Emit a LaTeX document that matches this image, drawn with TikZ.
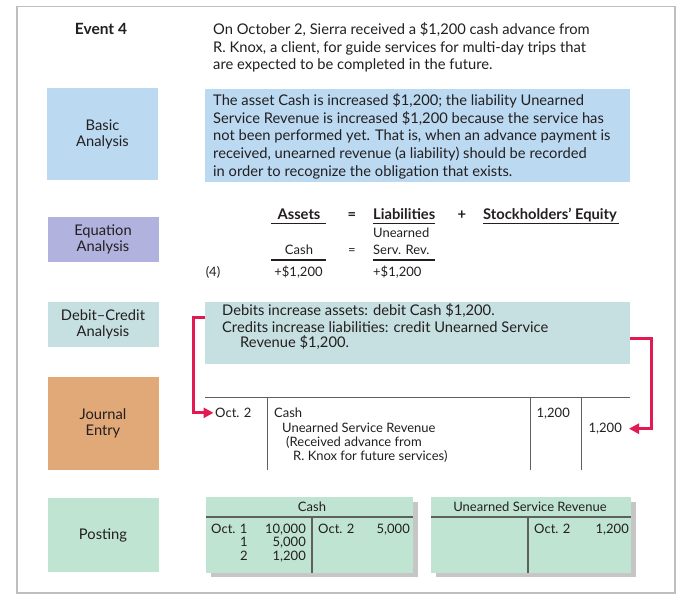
\documentclass[tikz,border=0pt]{standalone}
\usepackage{fontspec}
\setmainfont{Lato}
\usetikzlibrary{arrows.meta}
\definecolor{ink}{RGB}{35,31,32}
\definecolor{basicblue}{RGB}{187,218,242}
\definecolor{eqpurple}{RGB}{178,178,222}
\definecolor{dcteal}{RGB}{198,223,224}
\definecolor{jtan}{RGB}{225,168,120}
\definecolor{postmint}{RGB}{192,228,210}
\definecolor{shadowgray}{RGB}{198,198,198}
\definecolor{arrowred}{RGB}{226,26,82}
\definecolor{framegray}{RGB}{190,190,190}
\definecolor{rulegray}{RGB}{95,95,95}
\newcommand{\mainsz}{\fontsize{13}{16}\selectfont}
\newcommand{\bigsz}{\fontsize{14.7}{16}\selectfont}
\begin{document}
\begin{tikzpicture}[x=1pt,y=-1pt,
 txt/.style={anchor=base west, inner sep=0pt, font=\mainsz, text=ink},
 txtr/.style={anchor=base east, inner sep=0pt, font=\mainsz, text=ink},
 txtm/.style={anchor=base, inner sep=0pt, font=\mainsz, text=ink},
 para/.style={anchor=base west, inner sep=0pt, font=\bigsz, text=ink},
 boldtxt/.style={font=\bigsz\bfseries},
 lbox/.style={inner sep=0pt, align=center, font=\bigsz, text=ink, minimum width=111pt},
 panel/.style={inner sep=0pt, minimum width=425pt},
 uline/.style={draw=ink, line width=1.2pt},
 jrule/.style={draw=rulegray, line width=1pt},
 trule/.style={draw=rulegray, line width=1.3pt},
 redarr/.style={draw=arrowred, line width=3pt, line join=miter, -{Triangle[length=10pt,width=10pt]}},
]
\useasboundingbox[fill=white] (0,0) rectangle (685,611);
\draw[framegray, line width=1.5pt] (17,6.5) rectangle (675,593);

% Event
\node[txtm, font=\fontsize{15.5}{17}\selectfont\bfseries] (event) at (101,34) {Event 4};
\node[para] (ev1) at (213,34.3) {On October 2, Sierra received a \$1,200 cash advance from};
\node[para] (ev2) at (213,52) {R. Knox, a client, for guide services for multi-day trips that};
\node[para] (ev3) at (213,69.8) {are expected to be completed in the future.};

% left labels
\node[lbox, fill=basicblue, minimum height=92pt] (basic) at (102.5,134) {Basic\\Analysis};
\node[lbox, fill=eqpurple, minimum height=45pt] (eqlab) at (103,239.5) {Equation\\Analysis};
\node[lbox, fill=dcteal, minimum height=45pt] (dclab) at (103,324.5) {Debit–Credit\\Analysis};
\node[lbox, fill=jtan, minimum height=93pt] (jlab) at (103,423.5) {Journal\\Entry};
\node[lbox, fill=postmint, minimum height=74pt] (plab) at (103,535) {Posting};

% basic analysis
\node[panel, fill=basicblue, minimum height=93pt] (bapanel) at (417.5,135.5) {};
\node[para] (ba1) at (213,105.3) {The asset Cash is increased \$1,200; the liability Unearned};
\node[para] (ba2) at (213,123) {Service Revenue is increased \$1,200 because the service has};
\node[para] (ba3) at (213,140.8) {not been performed yet. That is, when an advance payment is};
\node[para] (ba4) at (213,158.5) {received, unearned revenue (a liability) should be recorded};
\node[para] (ba5) at (213,176.3) {in order to recognize the obligation that exists.};

% equation analysis
\node[txtm, boldtxt] (eqA) at (299,219) {Assets};
\node[txtm, boldtxt] (eqE1) at (352,219) {=};
\node[txt, boldtxt] (eqL) at (373,219) {Liabilities};
\node[txtm, boldtxt] (eqP) at (462,219) {+};
\node[txt, boldtxt] (eqSE) at (483,219) {Stockholders’ Equity};
\draw[uline] (271,223.5) -- (326,223.5);
\draw[uline] (373,223.5) -- (435,223.5);
\draw[uline] (483,223.5) -- (619,223.5);
\node[txt] (eqU) at (373,237.5) {Unearned};
\node[txtm] (eqC) at (299,254.5) {Cash};
\node[txtm] (eqE2) at (352,254.5) {=};
\node[txt] (eqSR) at (373,254.5) {Serv. Rev.};
\draw[uline] (271,260) -- (326,260);
\draw[uline] (373,260) -- (435,260);
\node[txtm] (eqN) at (213,276.5) {(4)};
\node[txtm] (eqC1) at (298.5,276.5) {+\$1,200};
\node[txt] (eqC2) at (373,276.5) {+\$1,200};

% debit-credit analysis
\node[panel, fill=dcteal, minimum height=62pt] (dcpanel) at (417.5,333) {};
\node[para] (dc1) at (222,315.3) {Debits increase assets: debit Cash \$1,200.};
\node[para] (dc2) at (222,332) {Credits increase liabilities: credit Unearned Service};
\node[para] (dc3) at (240,347.5) {Revenue \$1,200.};

% journal entry
\draw[jrule] (205,397) -- (630,397);
\draw[jrule] (267,397) -- (267,470);
\draw[jrule] (530,397) -- (530,470);
\draw[jrule] (581,397) -- (581,470);
\node[txt] (jdate) at (215,417.5) {Oct. 2};
\node[txt] (jdr) at (274,417.5) {Cash};
\node[txt] (jcr) at (282,432.5) {Unearned Service Revenue};
\node[txt] (jex1) at (286,446.5) {(Received advance from};
\node[txt] (jex2) at (293,460.5) {R. Knox for future services)};
\node[txtr] (jdamt) at (570,417.5) {1,200};
\node[txtr] (jcamt) at (622,432.5) {1,200};

% red arrows
\coordinate (lbend) at (193,317);
\draw[redarr, shorten >=1.5pt] (dcpanel.west |- lbend) -- (lbend) |- (jdate.west);
\coordinate (rbend) at (651,338);
\draw[redarr, shorten >=7pt] (dcpanel.east |- rbend) -- (rbend) |- (jcamt.east);

% posting: Cash T-account
\fill[shadowgray] (211,502) rectangle (418,577);
\fill[postmint] (206,497) rectangle (413,573);
\draw[trule] (206,517) -- (413,517);
\draw[trule] (312,517) -- (312,573);
\node[txtm] (cashT) at (312,511.5) {Cash};
\node[txt] (c1) at (211,533.5) {Oct. 1};
\node[txtr] (c1a) at (306,533.5) {10,000};
\node[txtm] (c2) at (244,546.5) {1};
\node[txtr] (c2a) at (306,546.5) {5,000};
\node[txtm] (c3) at (244,560.5) {2};
\node[txtr] (c3a) at (306,560.5) {1,200};
\node[txt] (c4) at (318,533.5) {Oct. 2};
\node[txtr] (c4a) at (410,533.5) {5,000};

% posting: Unearned Service Revenue T-account
\fill[shadowgray] (436,502) rectangle (636,577);
\fill[postmint] (431,497) rectangle (631,573);
\draw[trule] (431,517) -- (631,517);
\draw[trule] (528,517) -- (528,573);
\node[txtm] (usrT) at (530,511.5) {Unearned Service Revenue};
\node[txt] (u1) at (534,533.5) {Oct. 2};
\node[txtr] (u1a) at (629,533.5) {1,200};
\end{tikzpicture}
\end{document}
